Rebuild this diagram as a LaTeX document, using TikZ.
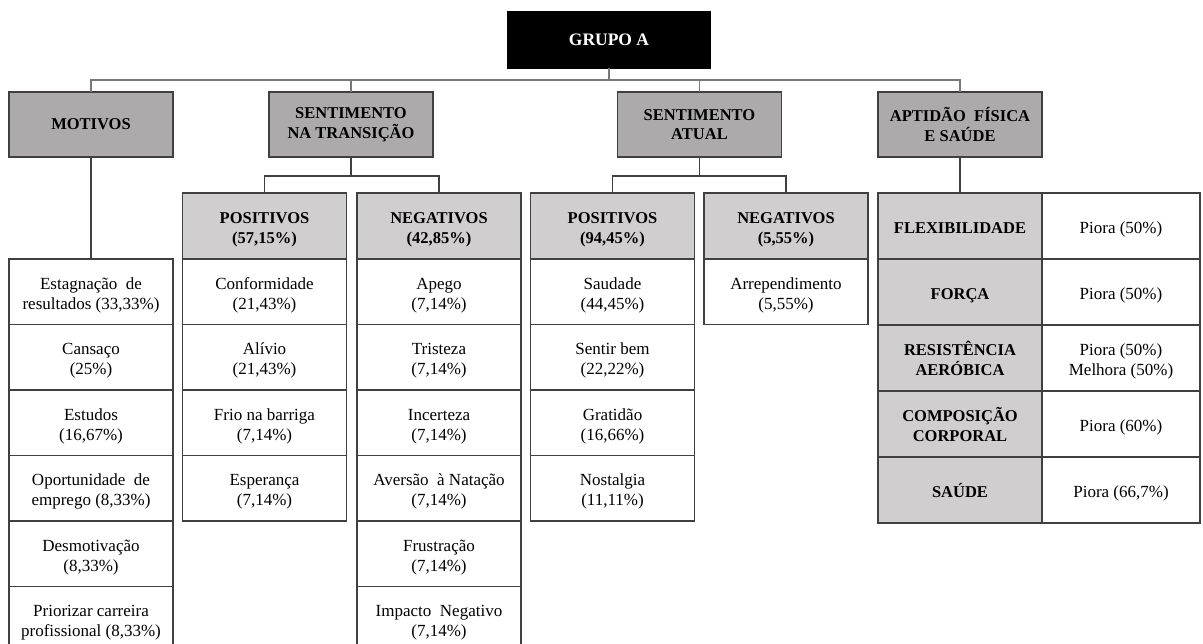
\documentclass[tikz,border=0pt]{standalone}
\usepackage{fontspec}
\setmainfont{Liberation Serif}
\definecolor{catgray}{RGB}{172,170,170}
\definecolor{headgray}{RGB}{208,206,206}
\definecolor{edgec}{RGB}{64,64,64}
\definecolor{linkc}{RGB}{120,120,120}
\newcommand{\tx}[1]{\raisebox{-3.5pt}[\height][\depth]{\begin{tabular}{@{}c@{}}#1\end{tabular}}}
\tikzset{
  base/.style={inner sep=0pt, outer sep=0pt, align=center, line width=1.2pt, draw=edgec},
  rootbox/.style={base, fill=black, draw=black, text=white, font=\bfseries\fontsize{17.5}{20}\selectfont, minimum width=202pt, minimum height=56pt},
  catbox/.style={base, fill=catgray, font=\bfseries\fontsize{16.5}{19.5}\selectfont, minimum width=164pt, minimum height=65pt},
  headbox/.style={base, fill=headgray, font=\bfseries\fontsize{16.5}{20.5}\selectfont, minimum width=164pt, minimum height=66pt},
  cellbox/.style={base, fill=white, font=\fontsize{17}{20}\selectfont, minimum width=164pt, minimum height=65.5pt},
  aptlabel/.style={base, fill=headgray, font=\bfseries\fontsize{16.5}{20}\selectfont, minimum width=164pt, minimum height=66pt},
  aptvalue/.style={base, fill=white, font=\fontsize{17}{20}\selectfont, minimum width=158pt, minimum height=66pt},
  linkline/.style={draw=linkc, line width=1.4pt},
  joinline/.style={draw=edgec, line width=1.2pt},
}
\begin{document}
\begin{tikzpicture}[x=1pt,y=-1pt]
\useasboundingbox (0,0) rectangle (1203,644);
\clip (0,0) rectangle (1203,644);
\fill[white] (0,0) rectangle (1203,644);

% root
\node[rootbox] (root) at (609,40) {GRUPO A};

% categories
\node[catbox] (mot) at (91,124.5) {MOTIVOS};
\node[catbox] (st) at (351,124.5) {SENTIMENTO\\NA TRANSIÇÃO};
\node[catbox] (sa) at (699.5,124.5) {SENTIMENTO\\ATUAL};
\node[catbox] (apt) at (960,124.5) {APTIDÃO\ \ FÍSICA\\E SAÚDE};

% bus
\coordinate (bus) at (609,80);
\draw[linkline] (root.south) -- (bus);
\draw[linkline] (mot.north) |- (bus) -| (apt.north);
\draw[linkline] (st.north) -- (st.north|-bus);
\draw[linkline] (sa.north) -- (sa.north|-bus);

% Motivos list
\node[cellbox] (m1) at (91,291.75) {\tx{Estagnação\ \ de\\resultados (33,33\%)}};
\node[cellbox] (m2) at (91,357.25) {\tx{Cansaço\\(25\%)}};
\node[cellbox] (m3) at (91,422.75) {\tx{Estudos\\(16,67\%)}};
\node[cellbox] (m4) at (91,488.25) {\tx{Oportunidade\ \ de\\emprego (8,33\%)}};
\node[cellbox] (m5) at (91,553.75) {\tx{Desmotivação\\(8,33\%)}};
\node[cellbox] (m6) at (91,619.25) {\tx{Priorizar carreira\\profissional (8,33\%)}};
\draw[joinline] (mot.south) -- (m1.north);

% Sentimento na transicao
\node[headbox] (tp) at (264.5,226) {\tx{POSITIVOS\\(57,15\%)}};
\node[cellbox] (tp1) at (264.5,291.75) {\tx{Conformidade\\(21,43\%)}};
\node[cellbox] (tp2) at (264.5,357.25) {\tx{Alívio\\(21,43\%)}};
\node[cellbox] (tp3) at (264.5,422.75) {\tx{Frio na barriga\\(7,14\%)}};
\node[cellbox] (tp4) at (264.5,488.25) {\tx{Esperança\\(7,14\%)}};

\node[headbox] (tn) at (439,226) {\tx{NEGATIVOS\\(42,85\%)}};
\node[cellbox] (tn1) at (439,291.75) {\tx{Apego\\(7,14\%)}};
\node[cellbox] (tn2) at (439,357.25) {\tx{Tristeza\\(7,14\%)}};
\node[cellbox] (tn3) at (439,422.75) {\tx{Incerteza\\(7,14\%)}};
\node[cellbox] (tn4) at (439,488.25) {\tx{Aversão\ \ à Natação\\(7,14\%)}};
\node[cellbox] (tn5) at (439,553.75) {\tx{Frustração\\(7,14\%)}};
\node[cellbox] (tn6) at (439,619.25) {\tx{Impacto\ \ Negativo\\(7,14\%)}};

\coordinate (stj) at (351,176);
\draw[joinline] (st.south) -- (stj);
\draw[joinline] (tp.north) |- (stj) -| (tn.north);

% Sentimento atual
\node[headbox] (ap) at (612.5,226) {\tx{POSITIVOS\\(94,45\%)}};
\node[cellbox] (ap1) at (612.5,291.75) {\tx{Saudade\\(44,45\%)}};
\node[cellbox] (ap2) at (612.5,357.25) {\tx{Sentir bem\\(22,22\%)}};
\node[cellbox] (ap3) at (612.5,422.75) {\tx{Gratidão\\(16,66\%)}};
\node[cellbox] (ap4) at (612.5,488.25) {\tx{Nostalgia\\(11,11\%)}};

\node[headbox] (an) at (786,226) {\tx{NEGATIVOS\\(5,55\%)}};
\node[cellbox] (an1) at (786,291.75) {\tx{Arrependimento\\(5,55\%)}};

\coordinate (saj) at (699.5,176);
\draw[joinline] (sa.south) -- (saj);
\draw[joinline] (ap.north) |- (saj) -| (an.north);

% Aptidao
\node[aptlabel] (l1) at (960,226) {\tx{FLEXIBILIDADE}};
\node[aptlabel] (l2) at (960,292) {\tx{FORÇA}};
\node[aptlabel] (l3) at (960,358) {\tx{RESISTÊNCIA\\AERÓBICA}};
\node[aptlabel] (l4) at (960,424) {\tx{COMPOSIÇÃO\\CORPORAL}};
\node[aptlabel] (l5) at (960,490) {\tx{SAÚDE}};
\node[aptvalue] (v1) at (1121,226) {\tx{Piora (50\%)}};
\node[aptvalue] (v2) at (1121,292) {\tx{Piora (50\%)}};
\node[aptvalue] (v3) at (1121,358) {\tx{Piora (50\%)\\Melhora (50\%)}};
\node[aptvalue] (v4) at (1121,424) {\tx{Piora (60\%)}};
\node[aptvalue] (v5) at (1121,490) {\tx{Piora (66,7\%)}};
\draw[joinline] (apt.south) -- (l1.north);
\end{tikzpicture}
\end{document}
